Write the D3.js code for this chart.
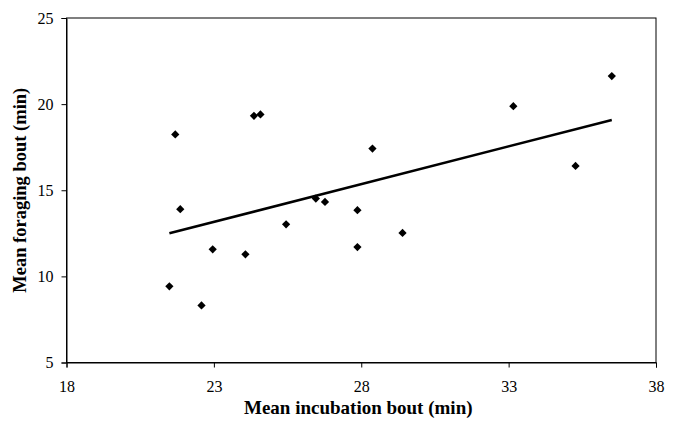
<html>
    <head>
        <style>
            body { margin: 0; background: #fff; }
            text { font-family: "Liberation Serif", "Times New Roman", serif; }
        </style>
    </head>
    <body>

        <svg id="chart"></svg>

        <script src="https://cdn.jsdelivr.net/npm/d3@7"></script>
        <script>

            // values
            let incubation = [21.49, 21.69, 21.86, 22.58, 22.96, 24.07, 24.36, 24.58, 25.45,
                              26.46, 26.77, 27.87, 27.87, 28.38, 29.40, 33.16, 35.27, 36.50];
            let foraging   = [9.42, 18.24, 13.90, 8.31, 11.57, 11.28, 19.32, 19.40, 13.02,
                              14.52, 14.32, 13.84, 11.70, 17.42, 12.52, 19.88, 16.41, 21.63];
            // linear trend line, ends
            let trendX = [21.49, 36.50];
            let trendY = [12.50, 19.08];

            let xTicks = [18, 23, 28, 33, 38];
            let yTicks = [5, 10, 15, 20, 25];

            let width = 673;
            let height = 427;

            let svg = d3.select("#chart").attr("width", width).attr("height", height);

            let plotLeft = 66.5, plotRight = 656, plotTop = 18, plotBottom = 362.5;

            let x = d3.scaleLinear().domain([18, 38]).range([plotLeft, plotRight]);
            let y = d3.scaleLinear().domain([5, 25]).range([plotBottom, plotTop]);

            // plot area frame
            svg.append("rect")
                .attr("x", plotLeft).attr("y", plotTop)
                .attr("width", plotRight - plotLeft).attr("height", plotBottom - plotTop)
                .attr("fill", "none")
                .attr("stroke", "#000")
                .attr("stroke-width", 1);

            let xAxis = svg.append("g")
                .attr("transform", `translate(0,${plotBottom})`)
                .call(d3.axisBottom(x).tickValues(xTicks).tickSize(5).tickPadding(13).tickFormat(d3.format("d")));

            let yAxis = svg.append("g")
                .attr("transform", `translate(${plotLeft},0)`)
                .call(d3.axisLeft(y).tickValues(yTicks).tickSize(5).tickPadding(8).tickFormat(d3.format("d")));

            svg.selectAll(".domain").attr("stroke", "#000");
            svg.selectAll(".tick line").attr("stroke", "#000");
            svg.selectAll(".tick text")
                .attr("font-family", "Liberation Serif")
                .attr("font-size", 16)
                .attr("fill", "#000");

            // trend line
            svg.append("line")
                .attr("x1", x(trendX[0])).attr("y1", y(trendY[0]))
                .attr("x2", x(trendX[1])).attr("y2", y(trendY[1]))
                .attr("stroke", "#000")
                .attr("stroke-width", 2.5);

            // points
            let diamond = d3.symbol().type(d3.symbolSquare).size(34);
            svg.append("g")
                .selectAll("path")
                .data(d3.range(incubation.length))
                .enter()
                .append("path")
                .attr("d", diamond)
                .attr("transform", i => `translate(${x(incubation[i])},${y(foraging[i])}) rotate(45)`)
                .attr("fill", "#000");

            // axis titles
            svg.append("text")
                .attr("x", (plotLeft + plotRight) / 2 - 3)
                .attr("y", 414)
                .attr("text-anchor", "middle")
                .attr("font-size", 19)
                .attr("font-weight", "bold")
                .text("Mean incubation bout (min)");

            svg.append("text")
                .attr("transform", `translate(26,${(plotTop + plotBottom) / 2}) rotate(-90)`)
                .attr("text-anchor", "middle")
                .attr("font-size", 18.5)
                .attr("font-weight", "bold")
                .text("Mean foraging bout (min)");

        </script>
    </body>
</html>
